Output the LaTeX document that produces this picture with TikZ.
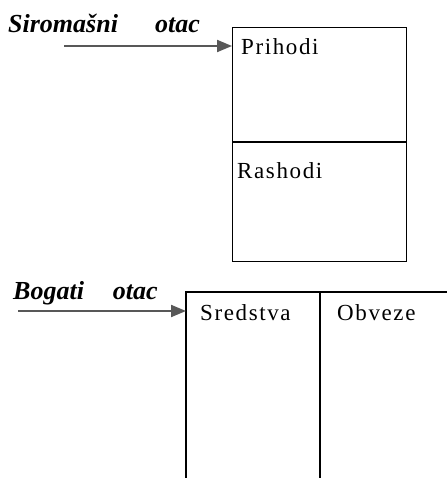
\documentclass[tikz,border=0pt]{standalone}
\usepackage{fontspec}
\setmainfont{Liberation Serif}
\newfontfamily\spacedserif[LetterSpace=7]{Liberation Serif}
\usetikzlibrary{arrows.meta}
\definecolor{arrowgray}{RGB}{88,88,88}
\tikzset{
  fatherlabel/.style={anchor=base west, inner sep=0pt,
    font=\fontsize{26bp}{30bp}\selectfont\bfseries\itshape},
  boxtext/.style={anchor=base west, inner sep=0pt,
    font=\spacedserif\fontsize{23bp}{27bp}\selectfont},
  pointer/.style={draw=arrowgray, line width=2bp,
    -{Triangle[length=15bp,width=12bp,fill=arrowgray]}},
  frame/.style={draw=black, line width=1.3bp},
}
\begin{document}
\begin{tikzpicture}[x=1bp,y=-1bp]
  \useasboundingbox (0,0) rectangle (447,478);

  % poor father: income / expenses
  \node[fatherlabel] (poorlbl) at (8,33) {Siromašni\hspace{37bp}otac};
  \node[frame, anchor=north west, inner sep=0pt,
        minimum width=174bp, minimum height=234bp] (poorbox) at (232,27) {};
  \coordinate (poorsplitL) at (232,142);
  \coordinate (poorsplitR) at (406,142);
  \draw[frame] (poorsplitL) -- (poorsplitR);
  \node[boxtext] (income) at (241,55) {Prihodi};
  \node[boxtext] (expenses) at (237,179) {Rashodi};
  \coordinate (poorstart) at (64,46);
  \draw[pointer] (poorstart) -- (poorstart -| poorbox.west);

  % rich father: assets / liabilities
  \node[fatherlabel] (richlbl) at (13,299) {Bogati\hspace{29bp}otac};
  \coordinate (richTL) at (186,292);
  \coordinate (richBL) at (186,478);
  \coordinate (richTR) at (447,292);
  \coordinate (richmidT) at (320,292);
  \coordinate (richmidB) at (320,478);
  \draw[frame] (richBL) -- (richTL) -- (richTR);
  \draw[frame] (richmidT) -- (richmidB);
  \node[boxtext] (assets) at (200,320) {Sredstva};
  \node[boxtext] (liabilities) at (337,320) {Obveze};
  \coordinate (richstart) at (18,311);
  \draw[pointer] (richstart) -- (richstart -| richTL);
\end{tikzpicture}
\end{document}
